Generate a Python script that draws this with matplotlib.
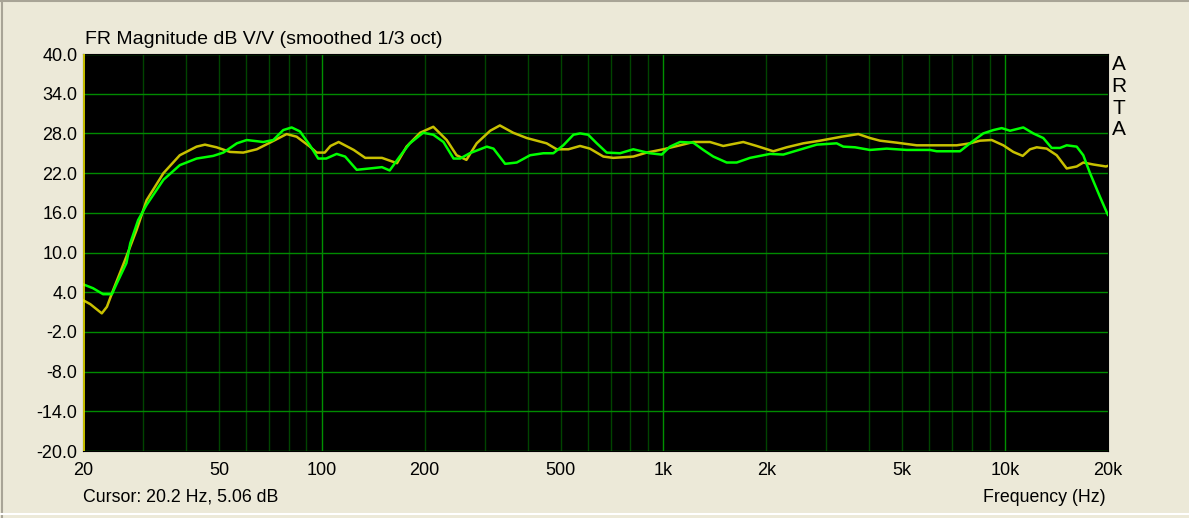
# ARTA style frequency response plot, two measurements (green and yellow)

import matplotlib
matplotlib.use("Agg")
import matplotlib.pyplot as plt
from matplotlib.lines import Line2D

plt.rcParams['font.family'] = ['Liberation Sans', 'DejaVu Sans']

# Values (Hz, dB)
green_freq = [20.0, 21.4, 22.9, 24.3, 25.1, 26.8, 27.5, 29.0, 30.7, 34.4, 38.4, 43.0,
              48.1, 51.5, 56.4, 60.3, 67.4, 72.1, 77.1, 81.6, 86.3, 92.3, 97.6, 103,
              110.5, 117, 126.5, 138, 150, 158, 169, 181, 198, 212, 227, 243, 254, 271,
              304, 318, 344, 372, 407, 445, 476, 509, 545, 570, 602, 638, 682, 746,
              816, 863, 913, 988, 1045, 1118, 1222, 1308, 1399, 1531, 1638, 1792, 2050,
              2242, 2566, 2808, 3213, 3360, 3636, 4022, 4502, 5152, 6026, 6303, 7376,
              7892, 8630, 9232, 9772, 10334, 11302, 12088, 12930, 13684, 14472, 15140,
              16196, 16932, 17714, 18952, 19860, 20000]
green_db = [5.2, 4.6, 3.7, 3.7, 5.3, 8.4, 11.4, 14.9, 17.2, 21.0, 23.2, 24.2,
            24.6, 25.1, 26.5, 27.0, 26.7, 27.0, 28.5, 28.9, 28.3, 26.2, 24.2, 24.2,
            24.9, 24.5, 22.5, 22.7, 22.9, 22.4, 24.5, 26.5, 28.1, 27.8, 26.7, 24.2, 24.2, 25.0,
            26.0, 25.7, 23.4, 23.6, 24.7, 25.0, 25.0, 26.2, 27.8, 28.0, 27.8, 26.5, 25.1, 25.0,
            25.6, 25.3, 25.0, 24.8, 26.0, 26.7, 26.6, 25.5, 24.5, 23.6, 23.6, 24.3, 24.9,
            24.8, 25.7, 26.3, 26.5, 26.0, 25.9, 25.5, 25.7, 25.5, 25.5, 25.3, 25.3,
            26.5, 28.0, 28.5, 28.8, 28.4, 28.9, 28.0, 27.3, 25.8, 25.8, 26.2,
            26.0, 24.7, 22.0, 18.4, 16.0, 15.7]

yellow_freq = [20.0, 21.0, 22.7, 23.5, 24.5, 26.8, 28.7, 30.7, 34.4, 38.4, 43.0, 45.5,
               49.2, 53.9, 58.9, 64.5, 70.5, 78.9, 84.4, 92.3, 96.6, 102, 106, 112, 124,
               134, 150, 166, 177, 194, 212, 232, 248, 265, 284, 311, 332, 363, 398, 455,
               487, 527, 570, 609, 667, 713, 816, 893, 999, 1118, 1222, 1368, 1496, 1712,
               1874, 2096, 2294, 2566, 2872, 3320, 3716, 4022, 4302, 4814, 5510, 6303,
               7212, 7892, 8440, 9132, 9876, 10564, 11256, 11824, 12370, 13230, 14152,
               15140, 16196, 16932, 18116, 19730, 20000]
yellow_db = [2.8, 2.2, 0.8, 1.8, 4.3, 9.4, 13.4, 17.9, 22.0, 24.7, 26.0, 26.3,
             25.9, 25.2, 25.1, 25.6, 26.6, 27.9, 27.5, 26.0, 25.1, 25.1, 26.1, 26.7, 25.5,
             24.3, 24.3, 23.5, 26.0, 28.1, 29.0, 27.0, 24.7, 24.0, 26.5, 28.4, 29.2, 28.1, 27.3, 26.5,
             25.6, 25.6, 26.1, 25.7, 24.5, 24.3, 24.5, 25.1, 25.6, 26.2, 26.7, 26.7, 26.1, 26.7,
             26.1, 25.3, 25.9, 26.5, 26.9, 27.5, 27.9, 27.3, 26.9, 26.6, 26.2, 26.2,
             26.2, 26.5, 26.9, 27.0, 26.2, 25.2, 24.6, 25.6, 25.9, 25.7, 24.7,
             22.7, 23.0, 23.6, 23.3, 23.0, 23.1]

y_ticks = [40, 34, 28, 22, 16, 10, 4, -2, -8, -14, -20]
x_ticks = [20, 50, 100, 200, 500, 1000, 2000, 5000, 10000, 20000]
x_labels = ['20', '50', '100', '200', '500', '1k', '2k', '5k', '10k', '20k']
grid_freqs = [30, 40, 50, 60, 70, 80, 90, 200, 300, 400, 500, 600, 700, 800, 900,
              2000, 3000, 4000, 5000, 6000, 7000, 8000, 9000]
decade_freqs = [100, 1000, 10000]
cursor_freq = 20.2

bg = '#ECE9D8'
fig = plt.figure(figsize=(11.89, 5.18), dpi=100, facecolor=bg)
ax = fig.add_axes([83/1189, 1 - 451/518, 1025/1189, 397/518])
ax.set_facecolor('black')

ax.set_xscale('log')
ax.set_xlim(20, 20000)
ax.set_ylim(-20, 40)

# grid lines
for f in grid_freqs:
    ax.axvline(f, color='#004400', lw=1.0, zorder=1)
for f in decade_freqs:
    ax.axvline(f, color='#009000', lw=1.0, zorder=1)
for y in y_ticks:
    ax.axhline(y, color='#008A00', lw=1.0, zorder=1)

ax.axvline(cursor_freq, color='#E8E000', lw=1.2, zorder=4)

ax.plot(yellow_freq, yellow_db, color='#C8C000', lw=1.8, zorder=3)
ax.plot(green_freq, green_db, color='#00FF00', lw=1.8, zorder=3)

ax.set_xticks(x_ticks)
ax.set_xticklabels(x_labels)
ax.minorticks_off()
ax.set_yticks(y_ticks)
ax.set_yticklabels(['%.1f' % v for v in y_ticks])
ax.tick_params(axis='both', length=0, labelsize=13, colors='black')
ax.tick_params(axis='x', pad=8)
ax.tick_params(axis='y', pad=4)
for s in ax.spines.values():
    s.set_color('black')

fig.text(85/1189, 1 - 40/518, 'FR Magnitude dB V/V (smoothed 1/3 oct)', fontsize=14,
         va='center', ha='left')
fig.text(83/1189, 1 - 497/518, 'Cursor: 20.2 Hz, 5.06 dB', fontsize=12.8,
         va='center', ha='left')
fig.text(1106/1189, 1 - 497/518, 'Frequency (Hz)', fontsize=12.8,
         va='center', ha='right')
for i, ch in enumerate('ARTA'):
    fig.text(1119/1189, 1 - (64 + i * 22)/518, ch, fontsize=15,
             va='center', ha='center')

# window border
fig.add_artist(Line2D([0, 1], [1 - 1/518, 1 - 1/518], color='#A8A496', lw=1.5))
fig.add_artist(Line2D([1.5/1189, 1.5/1189], [0, 1], color='#A8A496', lw=1.5))
fig.add_artist(Line2D([0, 1], [1 - 514/518, 1 - 514/518], color='white', lw=1.5))

fig.savefig('out.png', dpi=100, facecolor=bg)
